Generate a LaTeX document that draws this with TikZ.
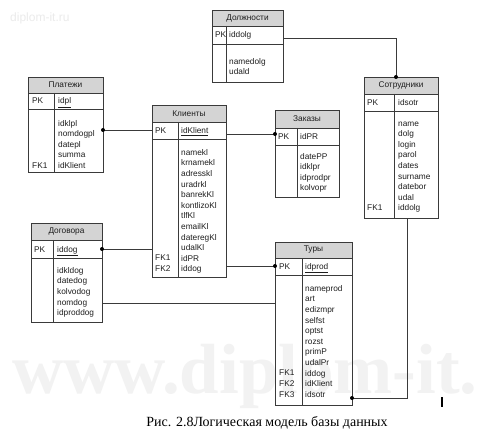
\documentclass[tikz,border=0pt]{standalone}
\usepackage{fontspec}
\setmainfont{Liberation Sans}
\newfontfamily\capfont{Liberation Serif}
\definecolor{hdrgray}{HTML}{D4D4D4}
\definecolor{bordc}{HTML}{3A3A3A}
\definecolor{txtc}{HTML}{1E1E1E}
\definecolor{wmc}{HTML}{EBEBEB}
\tikzset{
 tblbox/.style={draw=bordc, line width=0.9pt, inner sep=0pt, outer sep=0pt, rectangle},
 tblline/.style={draw=bordc, line width=0.9pt},
 hdrtext/.style={font=\fontsize{8.3}{10.6}\selectfont, text=txtc, inner sep=0pt},
 celltext/.style={font=\fontsize{8.3}{10.6}\selectfont, text=txtc, inner sep=0pt, anchor=base west},
 fieldlist/.style={font=\fontsize{8.3}{10.6}\selectfont, text=txtc, inner sep=0pt, anchor=north west, align=left},
 conn/.style={draw=bordc, line width=0.9pt},
 dotc/.style={fill=black},
}
% #1 name, #2 x1, #3 x2, #4 xd, #5 y0, #6 y1, #7 y2, #8 y3, #9 title
\newcommand\ertable[9]{%
  \fill[hdrgray] (#2,#5) rectangle (#3,#6);
  \node[tblbox, minimum width={(#3-#2)*1pt}, minimum height={(#8-#5)*1pt}, anchor=north west] (#1) at (#2,#5) {};
  \draw[tblline] (#2,#6) -- (#3,#6) (#2,#7) -- (#3,#7) (#4,#6) -- (#4,#8);
  \node[hdrtext] (#1-title) at ({(#2+#3)/2},{(#5+#6)/2}) {#9};
}
% #1 name, #2 x, #3 first baseline, #4 lines
\newcommand\erfields[4]{\node[fieldlist] (#1) at (#2,{#3-7.42}) {\strut #4};}
\begin{document}
\begin{tikzpicture}[x=1pt,y=-1pt]
\useasboundingbox[fill=white] (0,0) rectangle (491,436);
% watermarks
\node[text=wmc, font=\fontsize{12}{12}\selectfont, anchor=base west, inner sep=0pt] (wm1) at (10,22) {diplom-it.ru};
\node[text=black!5, font=\capfont\bfseries\fontsize{71}{71}\selectfont, anchor=base west, inner sep=0pt] (wm2) at (12,393) {www.diplom-it.};

% Должности
\ertable{dl}{212}{283}{226}{10}{26}{44}{82}{Должности}
\node[celltext] (dl-pk) at (215,38) {PK};
\node[celltext] (dl-pkf) at (229,38) {iddolg};
\erfields{dl-f}{229}{64}{namedolg\\udald}

% Сотрудники
\ertable{st}{364}{438}{394}{77}{94}{111}{218}{Сотрудники}
\node[celltext] (st-pk) at (367,105.5) {PK};
\node[celltext] (st-pkf) at (398,105.5) {idsotr};
\erfields{st-f}{398}{126}{name\\dolg\\login\\parol\\dates\\surname\\datebor\\udal\\iddolg}
\node[celltext] (st-fk1) at (367,210.8) {FK1};

% Платежи
\ertable{pl}{28}{103}{54}{77}{93}{109}{172}{Платежи}
\node[celltext] (pl-pk) at (32,104) {PK};
\node[celltext] (pl-pkf) at (58,104) {\underline{idpl}};
\erfields{pl-f}{58}{126}{idklpl\\nomdogpl\\datepl\\summa\\idKlient}
\node[celltext] (pl-fk1) at (32,168.4) {FK1};

% Клиенты
\ertable{kl}{152}{226}{178}{105}{122}{139}{277}{Клиенты}
\node[celltext] (kl-pk) at (155,133.5) {PK};
\node[celltext] (kl-pkf) at (181,133.5) {\underline{idKlient}};
\erfields{kl-f}{181}{155}{namekl\\krnamekl\\adresskl\\uradrkl\\banrekKl\\kontlizoKl\\tlfKl\\emailKl\\dateregKl\\udalKl\\idPR\\iddog}
\node[celltext] (kl-fk1) at (155,261) {FK1};
\node[celltext] (kl-fk2) at (155,271.6) {FK2};

% Заказы
\ertable{zk}{275}{339}{297}{110}{128}{145}{197}{Заказы}
\node[celltext] (zk-pk) at (278,139.5) {PK};
\node[celltext] (zk-pkf) at (300,139.5) {idPR};
\erfields{zk-f}{300}{159}{datePP\\idklpr\\idprodpr\\kolvopr}

% Договора
\ertable{dg}{31}{102}{53}{223}{240}{258}{322}{Договора}
\node[celltext] (dg-pk) at (34,252) {PK};
\node[celltext] (dg-pkf) at (57,252) {\underline{iddog}};
\erfields{dg-f}{57}{273}{idkldog\\datedog\\kolvodog\\nomdog\\idproddog}

% Туры
\ertable{tr}{275}{352}{302}{242}{258}{275}{405}{Туры}
\node[celltext] (tr-pk) at (279,269.5) {PK};
\node[celltext] (tr-pkf) at (305,269.5) {\underline{idprod}};
\erfields{tr-f}{305}{291}{nameprod\\art\\edizmpr\\selfst\\optst\\rozst\\primP\\udalPr\\iddog\\idKlient\\idsotr}
\node[celltext] (tr-fk1) at (279,375.8) {FK1};
\node[celltext] (tr-fk2) at (279,386.4) {FK2};
\node[celltext] (tr-fk3) at (279,397) {FK3};

% connectors
\draw[conn] (dl.east |- 0,38) -| (st.north -| 396,0);
\fill[dotc] (st.north -| 396,0) circle (2);
\draw[conn] (pl.east |- 0,130) -- (kl.west |- 0,130);
\fill[dotc] (pl.east |- 0,130) circle (2);
\draw[conn] (kl.east |- 0,134) -- (zk.west |- 0,134);
\fill[dotc] (zk.west |- 0,134) circle (2);
\draw[conn] (dg.east |- 0,249) -- (kl.west |- 0,249);
\fill[dotc] (dg.east |- 0,249) circle (2);
\draw[conn] (dg.east |- 0,303) -- (tr.west |- 0,303);
\draw[conn] (kl.east |- 0,266) -- (tr.west |- 0,266);
\fill[dotc] (tr.west |- 0,266) circle (2);
\draw[conn] (tr.east |- 0,398) -| (st.south -| 407,0);
\fill[dotc] (tr.east |- 0,398) circle (2);

% cursor mark
\draw[line width=2pt] (442,397) -- (442,407);

% caption
\node[font=\capfont\fontsize{14}{16}\selectfont, inner sep=0pt, anchor=base] (cap) at (267,426) {Рис. 2.8Логическая модель базы данных};
\end{tikzpicture}
\end{document}
